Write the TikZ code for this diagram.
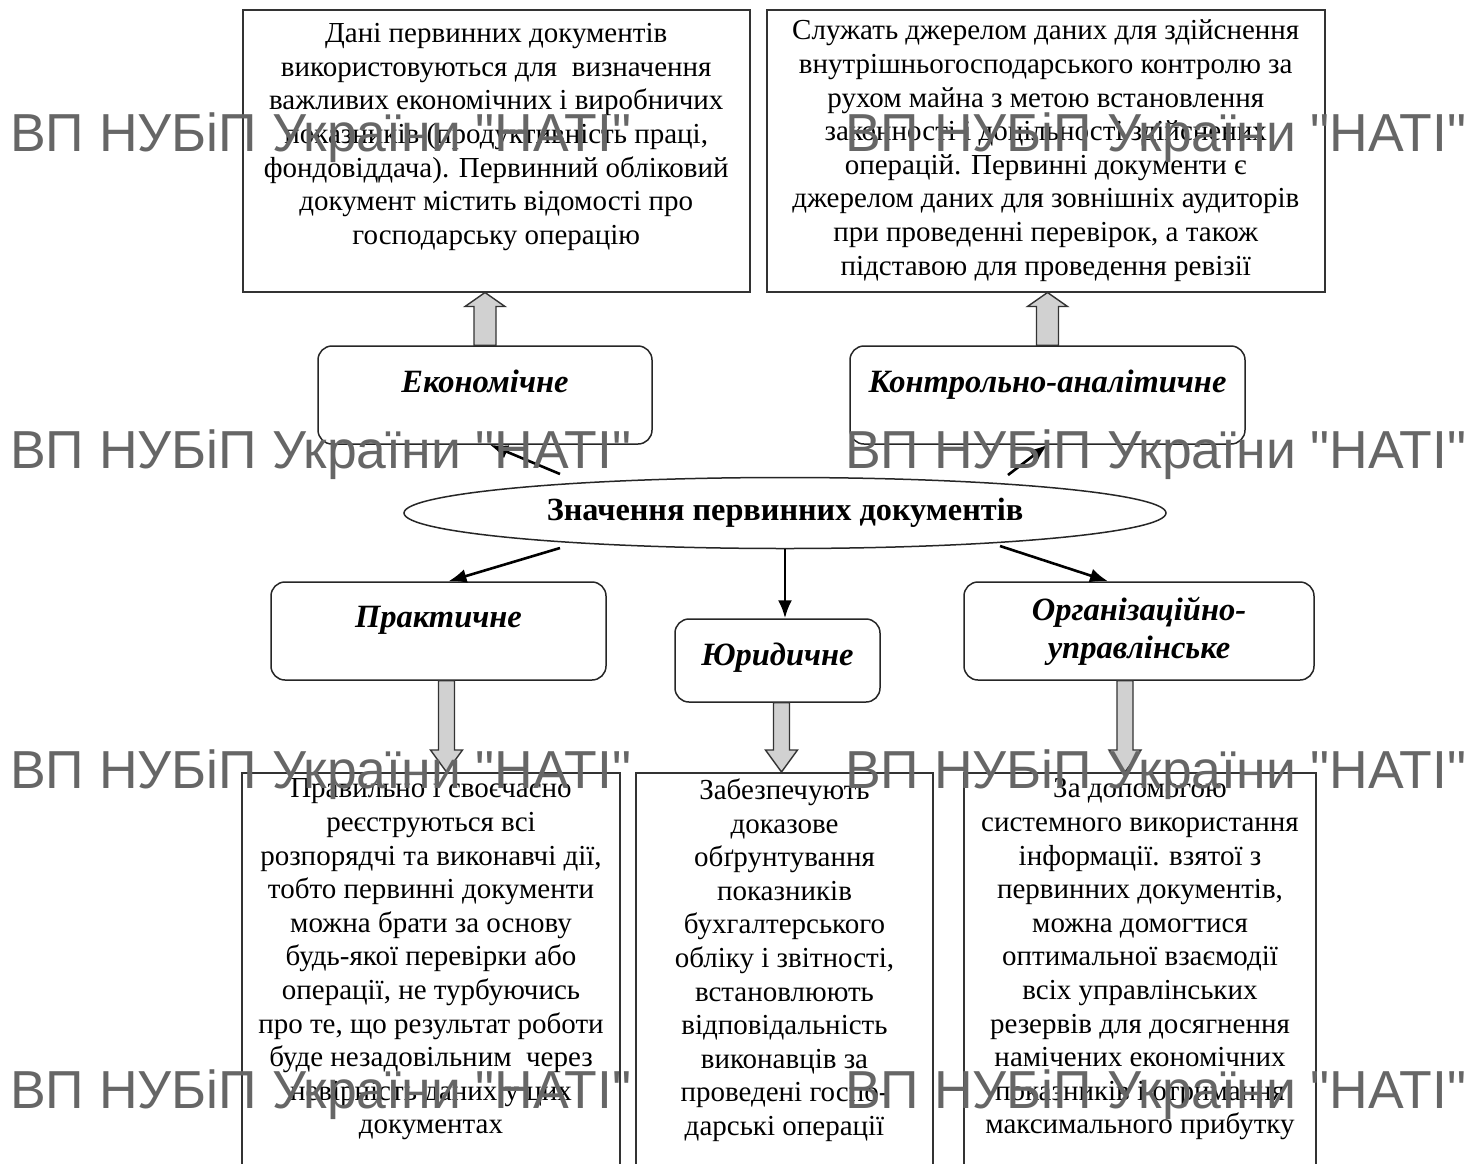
\documentclass[tikz,border=0pt]{standalone}
\usepackage{fontspec}
\setmainfont{Liberation Serif}
\newfontfamily\wmfont{Liberation Sans}
\usetikzlibrary{shapes.geometric,calc,arrows.meta}

\tikzset{
  infobox/.style={draw=black!80, line width=1.5pt, align=center, inner sep=4pt,
    font=\fontsize{29}{33.6}\selectfont},
  catbox/.style={draw=black!85, line width=1.5pt, rounded corners=14pt, align=center,
    inner sep=2pt, font=\fontsize{32.5}{38}\selectfont\bfseries\itshape},
  link/.style={line width=2.6pt, -{Latex[length=18pt,width=14pt]}},
  fatarr/.style={draw=black!80, line width=1.4pt, fill=black!18},
  wmark/.style={anchor=base west, inner sep=0pt, text=black!60,
    font=\fontsize{53.5}{54}\wmfont},
}

% block arrow: from, tip, half shaft, half head, head length
\newcommand{\fatarrow}[5]{%
  \coordinate (fa-h) at ($(#2)!#5!(#1)$);
  \draw[fatarr] ($(#1)!#3!90:(#2)$) -- ($(fa-h)!#3!90:(#2)$) -- ($(fa-h)!#4!90:(#2)$)
    -- (#2) -- ($(fa-h)!#4!-90:(#2)$) -- ($(fa-h)!#3!-90:(#2)$) -- ($(#1)!#3!-90:(#2)$) -- cycle;}

\begin{document}
\begin{tikzpicture}[x=1pt, y=-1pt]

\useasboundingbox[fill=white] (0,0) rectangle (1484,1163);

% top boxes
\node[infobox, anchor=north west, minimum width=507, minimum height=282] (ecotext) at (242,9)
  {Дані первинних документів\\ використовуються для\ \ визначення\\ важливих економічних і виробничих\\
   показників (продуктивність праці,\\ фондовіддача). Первинний обліковий\\ документ містить відомості про\\
   господарську операцію\\ \mbox{}};
\node[infobox, anchor=north west, minimum width=558, minimum height=282] (ctrltext) at (766,9)
  {Служать джерелом даних для здійснення\\ внутрішньогосподарського контролю за\\ рухом майна з метою встановлення\\
   законності і доцільності здійснених\\ операцій. Первинні документи є\\ джерелом даних для зовнішніх аудиторів\\
   при проведенні перевірок, а також\\ підставою для проведення ревізії};

% kinds
\node[catbox, minimum width=334, minimum height=98, text depth=28pt] (econ) at (485,395) {Економічне};
\node[catbox, minimum width=395, minimum height=98, text depth=28pt] (ctrl) at (1047.5,395) {Контрольно-аналітичне};

\node[ellipse, draw=black!85, line width=1.5pt, minimum width=762, minimum height=71, inner sep=0pt,
  font=\fontsize{32.3}{38}\selectfont\bfseries] (mean) at (785,513) {Значення первинних документів};

\node[catbox, minimum width=335, minimum height=98, text depth=28pt] (pract) at (438.5,631) {Практичне};
\node[catbox, minimum width=205, minimum height=83, text depth=13pt] (jur) at (777.5,660.5) {Юридичне};
\node[catbox, minimum width=350, minimum height=98] (org) at (1139,631) {Організаційно-\\управлінське};

% bottom boxes
\node[infobox, anchor=north, minimum width=378, inner ysep=6pt, text depth=70pt] (practbox) at (431,772)
  {Правильно і своєчасно\\ реєструються всі\\ розпорядчі та виконавчі дії,\\ тобто первинні документи\\
   можна брати за основу\\ будь-якої перевірки або\\ операції, не турбуючись\\ про те, що результат роботи\\
   буде незадовільним\ \ через\\ невірність даних у цих\\ документах};
\node[infobox, anchor=north, minimum width=297, inner ysep=6pt, text depth=70pt] (jurbox) at (784.5,772)
  {Забезпечують\\ доказове\\ обґрунтування\\ показників\\ бухгалтерського\\ обліку і звітності,\\
   встановлюють\\ відповідальність\\ виконавців за\\ проведені госпо-\\ дарські операції};
\node[infobox, anchor=north, minimum width=352, inner ysep=6pt, text depth=70pt] (orgbox) at (1140,772)
  {За допомогою\\ системного використання\\ інформації. взятої з\\ первинних документів,\\ можна домогтися\\
   оптимальної взаємодії\\ всіх управлінських\\ резервів для досягнення\\ намічених економічних\\
   показників і отримання\\ максимального прибутку};

% thin arrows
\coordinate (t1) at (560,474);
\coordinate (t2) at (1008,475);
\coordinate (t3) at (560,548);
\coordinate (t5) at (1000,546);
\draw[link] (t1) -- ([xshift=5pt]econ.south);
\draw[link] (t2) -- (ctrl.south);
\draw[link] (t3) -- ([xshift=10pt]pract.north);
\draw[link] (mean.south) -- (mean.south |- jur.north);
\draw[link] (t5) -- ([xshift=-31pt]org.north);

% block arrows
\coordinate (f1a) at (econ.north);
\coordinate (f1b) at (econ.north |- ecotext.south);
\coordinate (f2a) at (ctrl.north);
\coordinate (f2b) at (ctrl.north |- ctrltext.south);
\coordinate (f3a) at ([xshift=8pt]pract.south);
\coordinate (f3b) at (f3a |- practbox.north);
\coordinate (f4a) at ([xshift=4pt]jur.south);
\coordinate (f4b) at (f4a |- jurbox.north);
\coordinate (f5a) at ([xshift=-14pt]org.south);
\coordinate (f5b) at (f5a |- orgbox.north);
\fatarrow{f1a}{f1b}{11pt}{20pt}{14pt}
\fatarrow{f2a}{f2b}{11pt}{20pt}{14pt}
\fatarrow{f3a}{f3b}{8pt}{16pt}{22pt}
\fatarrow{f4a}{f4b}{8pt}{16pt}{22pt}
\fatarrow{f5a}{f5b}{8pt}{16pt}{22pt}

% watermark
\node[wmark] (wm1) at (10,151) {ВП НУБіП України "НАТІ"};
\node[wmark] (wm2) at (845,151) {ВП НУБіП України "НАТІ"};
\node[wmark] (wm3) at (10,468) {ВП НУБіП України "НАТІ"};
\node[wmark] (wm4) at (845,468) {ВП НУБіП України "НАТІ"};
\node[wmark] (wm5) at (10,788) {ВП НУБіП України "НАТІ"};
\node[wmark] (wm6) at (845,788) {ВП НУБіП України "НАТІ"};
\node[wmark] (wm7) at (10,1108) {ВП НУБіП України "НАТІ"};
\node[wmark] (wm8) at (845,1108) {ВП НУБіП України "НАТІ"};

\end{tikzpicture}
\end{document}
